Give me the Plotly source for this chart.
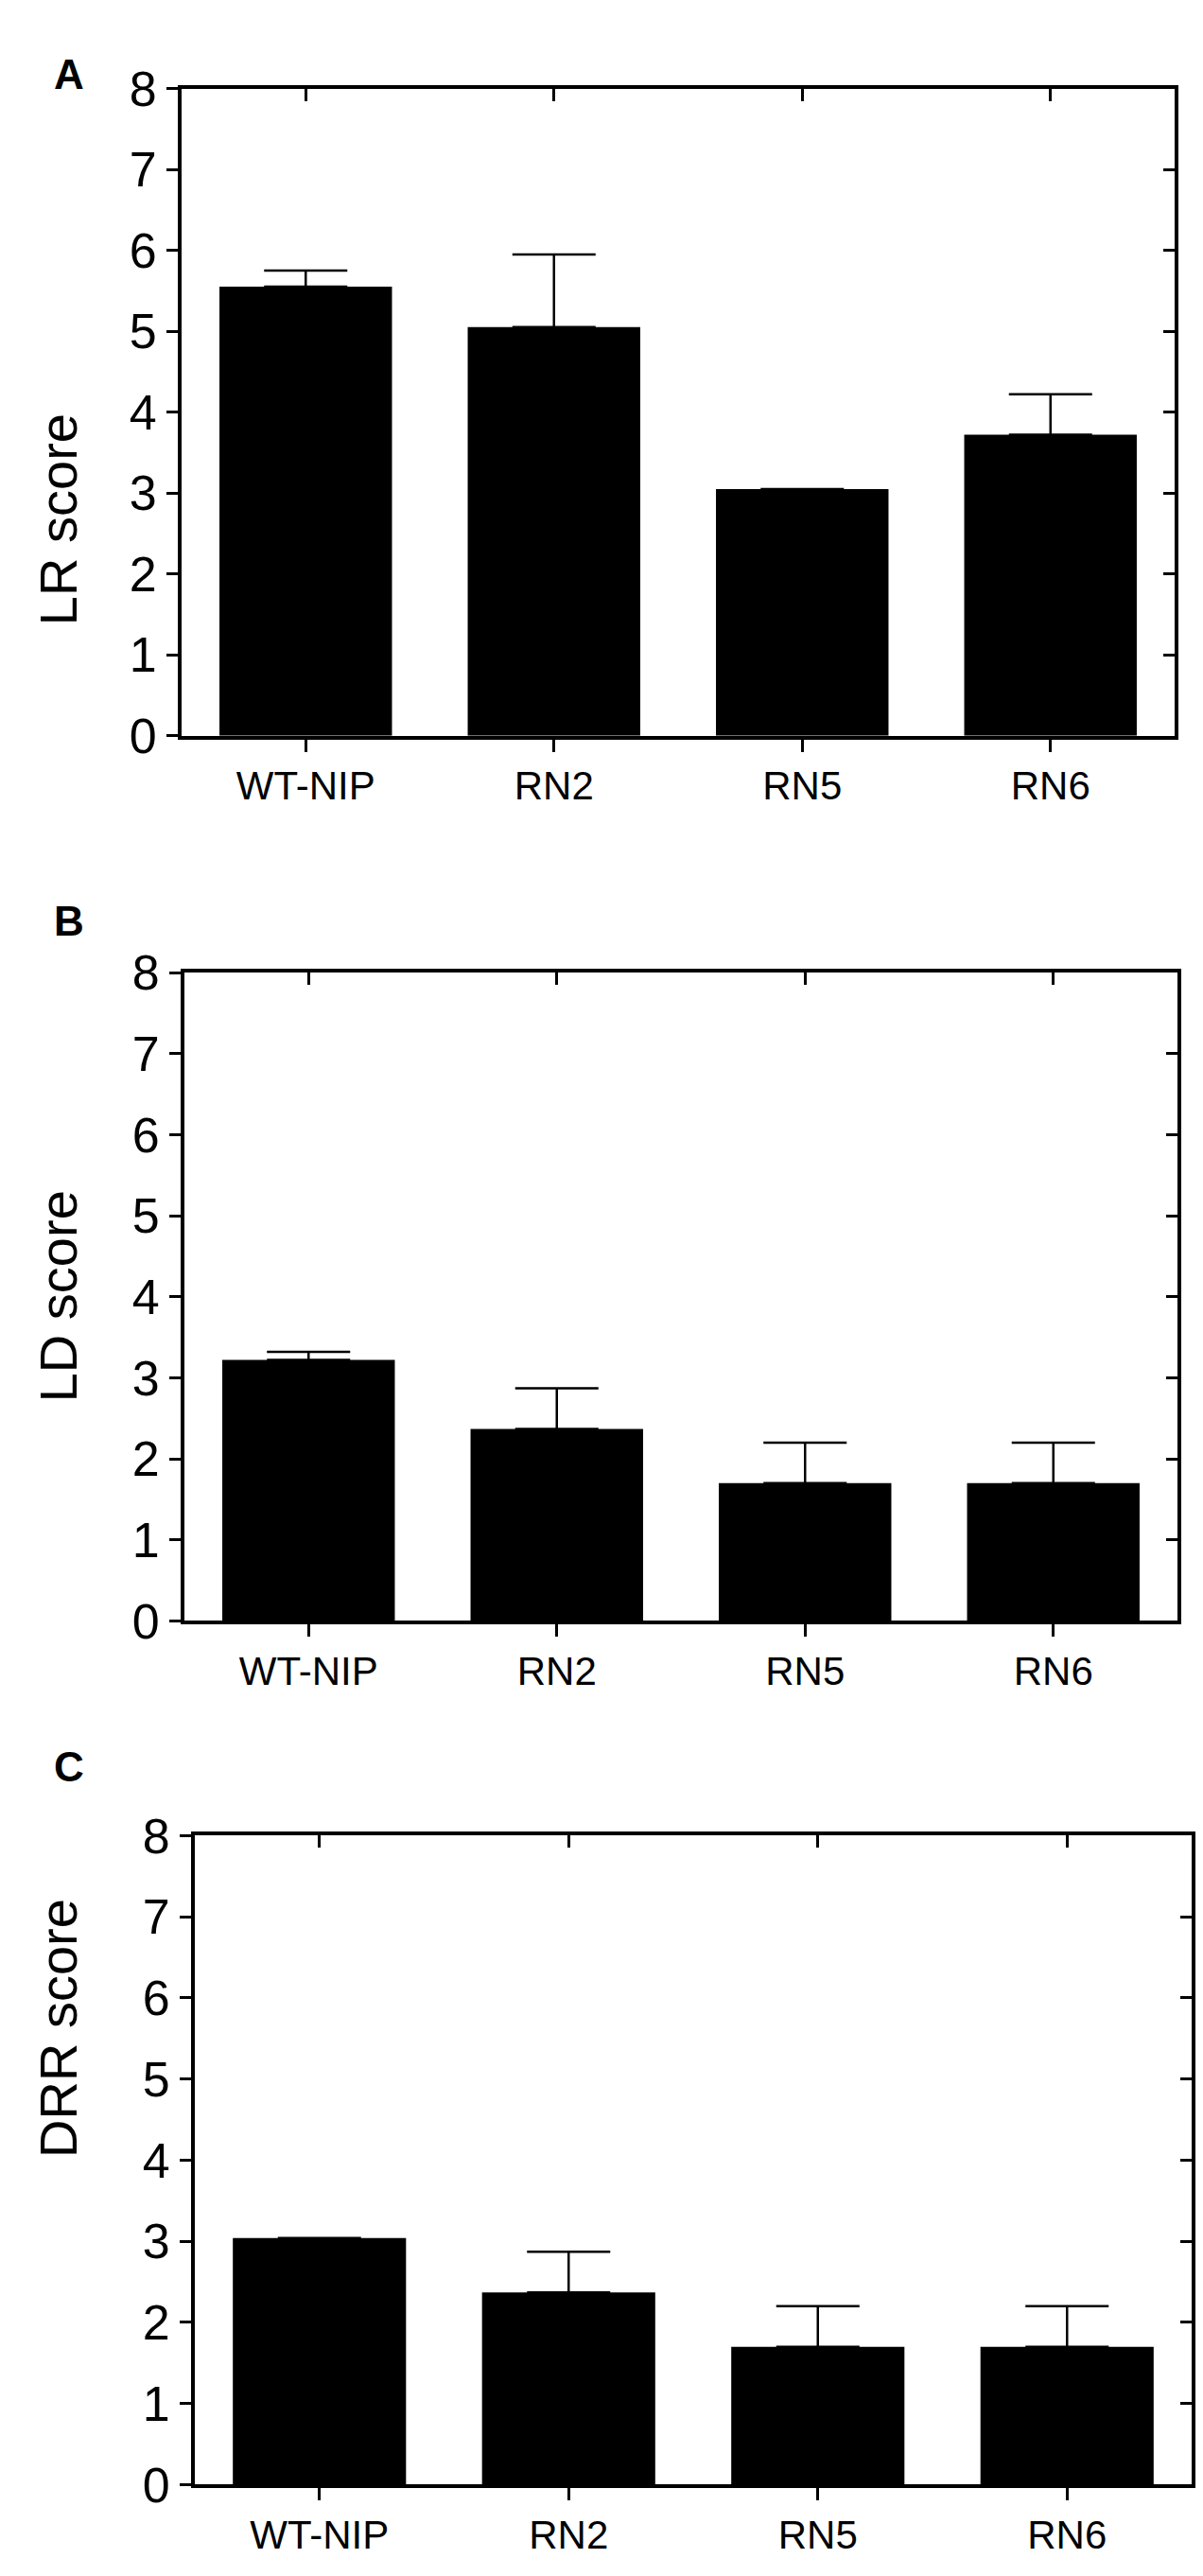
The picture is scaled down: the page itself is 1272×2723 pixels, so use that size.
import plotly.graph_objects as go

# 데이터 =====
lines = ['WT-NIP', 'RN2', 'RN5', 'RN6']
y_ticks = [0, 1, 2, 3, 4, 5, 6, 7, 8]

lr_mean = [5.55, 5.05, 3.05, 3.72]
lr_err = [0.2, 0.9, None, 0.5]

ld_mean = [3.22, 2.37, 1.70, 1.70]
ld_err = [0.1, 0.5, 0.5, 0.5]

drr_mean = [3.04, 2.37, 1.70, 1.70]
drr_err = [None, 0.5, 0.5, 0.5]

panels = [
    ('A', 'LR score', lr_mean, lr_err),
    ('B', 'LD score', ld_mean, ld_err),
    ('C', 'DRR score', drr_mean, drr_err),
]

W, H = 1272, 2723
# 패널 위치(픽셀): 왼쪽, 오른쪽, 위, 아래
boxes = [(192, 1242, 66, 765), (195, 1245, 1021, 1721), (206, 1260, 1953, 2654)]
letter_y = [23, 965, 1906]

FONT = 'Liberation Sans, Arial, sans-serif'

fig = go.Figure()
layout = {}
annos = []

for i, (letter, ytitle, mean, err) in enumerate(panels):
    n1, n2 = 2 * i + 1, 2 * i + 2
    left, right, top, bottom = boxes[i]
    xdom = [left / W, right / W]
    ydom = [1 - bottom / H, 1 - top / H]

    fig.add_trace(go.Bar(
        x=lines, y=mean, width=0.695,
        marker=dict(color='black', line=dict(width=0)),
        error_y=dict(type='data', array=err, symmetric=False,
                     arrayminus=[0] * len(mean),
                     color='black', thickness=2.5, width=44),
        xaxis='x%d' % n1, yaxis='y%d' % n1, showlegend=False,
    ))
    # 위/오른쪽 안쪽 눈금용 보이지 않는 트레이스
    fig.add_trace(go.Scatter(
        x=lines, y=mean, mode='markers', marker=dict(opacity=0),
        hoverinfo='skip', xaxis='x%d' % n2, yaxis='y%d' % n2, showlegend=False,
    ))

    common_x = dict(type='category', categoryarray=lines, range=[-0.5, 3.5],
                    showgrid=False, zeroline=False, linecolor='black',
                    linewidth=4, tickcolor='black', tickwidth=3, ticklen=13)
    common_y = dict(range=[0, 8], tickvals=y_ticks, showgrid=False,
                    zeroline=False, linecolor='black', linewidth=4,
                    tickcolor='black', tickwidth=3, ticklen=12)

    layout['xaxis%d' % n1] = dict(common_x, domain=xdom, anchor='y%d' % n1,
                                  ticks='outside', side='bottom',
                                  showline=True, mirror=True,
                                  tickfont=dict(size=42, color='black', family=FONT))
    layout['xaxis%d' % n2] = dict(common_x, domain=xdom, anchor='y%d' % n2,
                                  overlaying='x%d' % n1, side='top',
                                  showline=False, ticks='inside',
                                  showticklabels=False)
    layout['yaxis%d' % n1] = dict(common_y, domain=ydom, anchor='x%d' % n1,
                                  ticks='outside', side='left',
                                  showline=True, mirror=True,
                                  tickfont=dict(size=52, color='black', family=FONT))
    layout['yaxis%d' % n2] = dict(common_y, domain=ydom, anchor='x%d' % n2,
                                  overlaying='y%d' % n1, side='right',
                                  showline=False, ticks='inside',
                                  showticklabels=False)

    annos.append(dict(text='<b>%s</b>' % letter, x=55 / W, y=1 - letter_y[i] / H,
                      xref='paper', yref='paper', showarrow=False,
                      font=dict(size=44, color='black', family=FONT)))
    annos.append(dict(text=ytitle, textangle=-90, x=28 / W,
                      y=(ydom[0] + ydom[1]) / 2, xref='paper', yref='paper',
                      showarrow=False,
                      font=dict(size=56, color='black', family=FONT)))

fig.update_layout(**layout)
fig.update_layout(annotations=annos)
fig.update_layout(width=W, height=H, margin=dict(l=0, r=0, t=0, b=0),
                  plot_bgcolor='white', paper_bgcolor='white',
                  font=dict(family=FONT, color='black'))
# 페이지 여백/스크롤바 제거, 툴바 숨김
fig.write_html("out.html", config={'displayModeBar': False},
               post_script="document.body.style.margin='0';"
                           "document.body.style.overflow='hidden';")
